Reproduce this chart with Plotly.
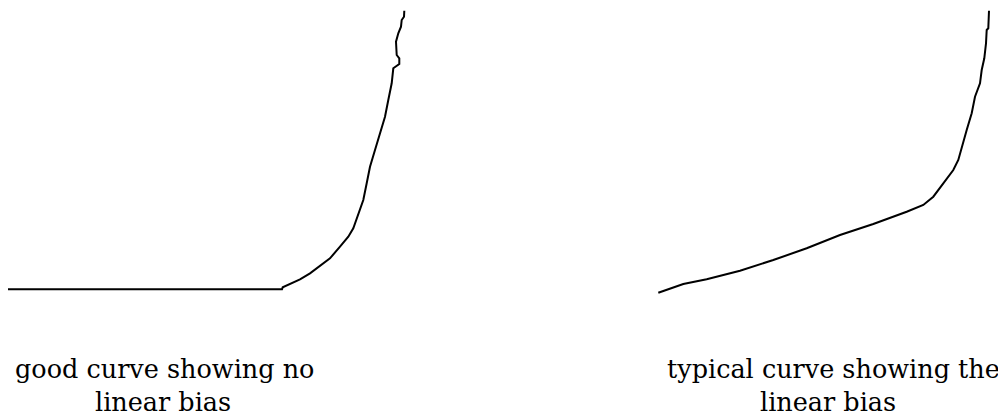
import plotly.graph_objects as go

# Left curve: "good curve showing no linear bias"
good_x = [8, 282, 282.7, 290, 300, 310, 320, 330, 340, 348.3, 353.3, 358.3, 363.3,
          366.7, 370, 375, 380, 385, 388.3, 391.7, 393.3, 399.3, 399.3, 396.7, 396,
          398.3, 401, 401.7, 404, 404.3]
good_y = [289.3, 289.3, 287.3, 284, 279.3, 273.3, 265.7, 258.3, 246.7, 236.7, 228.3,
          215, 200, 183.3, 166.7, 150, 133.3, 116.7, 100, 83.3, 68.3, 64, 58.3, 55,
          41.7, 33.3, 26.7, 20, 16.7, 10.7]

# Right curve: "typical curve showing the linear bias"
typ_x = [658.3, 666.7, 683.3, 706.7, 740, 773.3, 806.7, 840, 873.3, 906.7, 923.3,
         933.3, 943.3, 953.3, 958.3, 961.7, 966.7, 971.7, 975, 980, 981.7, 984.3,
         986, 986.7, 988.3, 989]
typ_y = [292.7, 290, 284, 279.3, 270.7, 260, 248.3, 235, 224, 211.7, 205, 196.7,
         183.3, 170, 160, 146.7, 130, 113.3, 96.7, 83.3, 70, 58.3, 43.3, 30, 28.3,
         10.7]

caption_lines = ["good curve showing no", "linear bias",
                 "typical curve showing the", "linear bias"]
caption_x = [164, 163, 833, 828]
caption_y = [369, 402, 369, 402]

# the page body has an 8px margin; shift the figure so data units = window pixels
OFF = 8
W, H = 1006, 419

fig = go.Figure()
for xs, ys in [(good_x, good_y), (typ_x, typ_y)]:
    fig.add_trace(go.Scatter(x=xs, y=ys, mode="lines",
                             line=dict(color="black", width=2),
                             hoverinfo="skip", showlegend=False))

for t, cx, cy in zip(caption_lines, caption_x, caption_y):
    fig.add_annotation(x=cx, y=cy, xref="x", yref="y", text=t, showarrow=False,
                       font=dict(family="DejaVu Serif", size=25.5, color="black"),
                       align="center", xanchor="center", yanchor="middle")

fig.update_layout(
    width=W - OFF, height=H - OFF,
    margin=dict(l=0, r=0, t=0, b=0),
    paper_bgcolor="white", plot_bgcolor="white",
    xaxis=dict(range=[OFF, W], visible=False, fixedrange=True),
    yaxis=dict(range=[H, OFF], visible=False, fixedrange=True),
)

fig.write_html("out.html")
